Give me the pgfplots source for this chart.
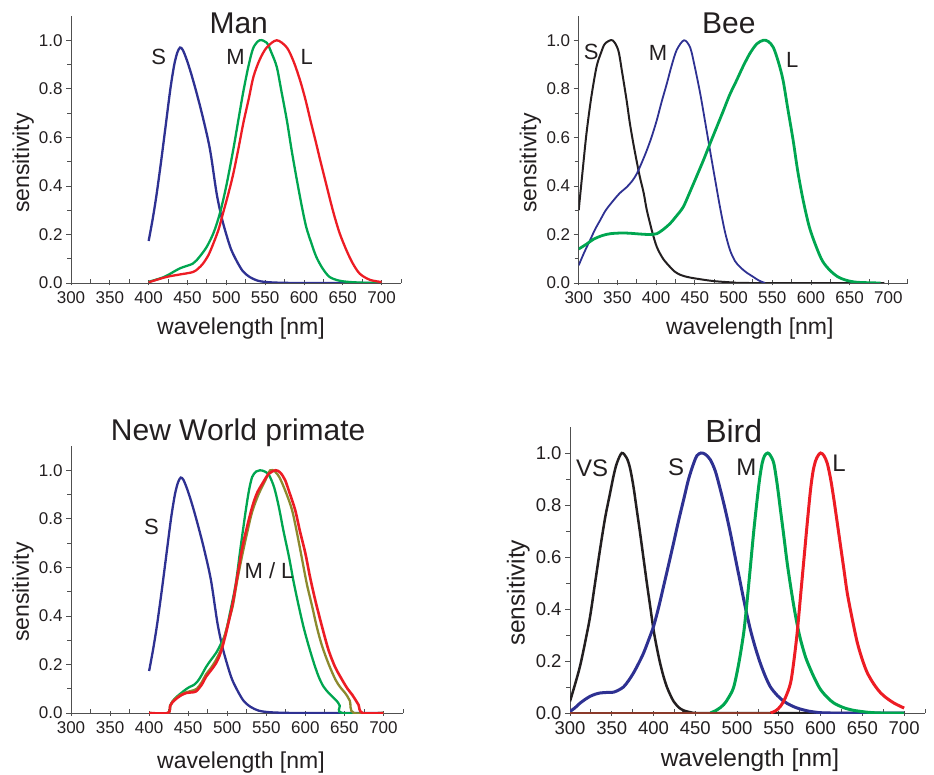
\documentclass[border=0pt]{standalone}
\usepackage{fontspec}
\setmainfont{Liberation Sans}
\usepackage{pgfplots}
\pgfplotsset{compat=1.18}
\definecolor{cblue}{HTML}{2E3192}
\definecolor{cgreen}{HTML}{00A650}
\definecolor{cred}{HTML}{ED1C24}
\definecolor{cblack}{HTML}{231F20}
\definecolor{colive}{HTML}{8C8A2E}
\definecolor{cbrown}{HTML}{8B3A2A}
\definecolor{txt}{HTML}{231F20}
\definecolor{axgray}{HTML}{505050}

\pgfplotsset{
  spec/.style={
    scale only axis, clip mode=individual,
    axis lines*=left,
    axis line style={draw=axgray,line width=0.8pt},
    xmin=300,xmax=725,ymin=0,ymax=1.1,
    xtick={300,350,400,450,500,550,600,650,700},
    xticklabels={300,350,400,450,500,550,600,650,700},
    minor xtick={325,375,425,475,525,575,625,675,725},
    ytick={0,0.2,0.4,0.6,0.8,1.0},
    yticklabels={0.0,0.2,0.4,0.6,0.8,1.0},
    minor ytick={0.1,0.3,0.5,0.7,0.9},
    tick align=outside,major tick length=5pt,minor tick length=4pt,
    every tick/.style={draw=axgray,line width=0.8pt},
    every major x tick/.append style={yshift=2.5pt},
    every minor x tick/.append style={yshift=4pt},
    tick label style={font=\fontsize{17}{20}\selectfont,text=txt},
    label style={font=\fontsize{23}{27}\selectfont,text=txt},
    xlabel={wavelength [nm]},ylabel={sensitivity},
  },
  crv/.style={smooth,line width=2.3pt,no markers},
}
\newcommand{\ttl}{\fontsize{30}{34}\selectfont}
\newcommand{\lbl}{\fontsize{22}{26}\selectfont}

\begin{document}
\begin{tikzpicture}
\path[use as bounding box] (0,0) rectangle (934pt,-775pt);

% Man
\begin{axis}[spec,at={(71pt,-283pt)},anchor=south west,width=330pt,height=267pt,
  xlabel style={at={(axis description cs:0.515,-0.169)},anchor=center},
  ylabel style={at={(axis description cs:-0.145,0.449)},anchor=center}]
\addplot[crv,cblue] coordinates {
(400,0.173)(405,0.26)(410,0.36)(416,0.5)(422,0.65)(428,0.8)(433,0.9)(437,0.95)(440.5,0.97)(444,0.96)(449,0.92)(455,0.86)(462,0.78)(470,0.68)(479,0.55)(487.5,0.37)(494,0.27)(500,0.2)(506,0.14)(513,0.093)(521,0.05)(530,0.025)(540,0.01)(551,0.004)(570,0.001)(600,0)(700,0)};
\addplot[crv,cgreen] coordinates {
(400,0.005)(420,0.025)(440,0.06)(457,0.08)(466,0.11)(475,0.15)(484,0.21)(492,0.29)(500,0.40)(509,0.55)(516,0.68)(522,0.79)(529,0.9)(535,0.97)(543,1.0)(552,0.99)(558,0.95)(565,0.89)(571,0.79)(578,0.67)(584,0.55)(590,0.44)(597,0.32)(603,0.23)(610,0.16)(616,0.107)(624,0.06)(633,0.025)(645,0.01)(659,0.004)(680,0.001)(700,0)};
\addplot[crv,cred] coordinates {
(400,0.003)(423,0.025)(440,0.035)(457,0.045)(464,0.06)(470,0.08)(477,0.115)(483,0.16)(490,0.22)(496,0.29)(502,0.36)(509,0.45)(516,0.56)(522,0.66)(529,0.76)(535,0.85)(543,0.92)(552,0.97)(565,1.0)(578,0.97)(587,0.91)(595,0.835)(602,0.755)(608,0.675)(615,0.585)(621,0.505)(630,0.39)(638,0.29)(646,0.205)(655,0.133)(663,0.08)(672,0.038)(685,0.013)(700,0.004)};
\node[text=txt,font=\ttl] at (axis cs:516,1.07) {Man};
\node[text=txt,font=\lbl] at (axis cs:413,0.93) {S};
\node[text=txt,font=\lbl] at (axis cs:512,0.93) {M};
\node[text=txt,font=\lbl] at (axis cs:603.5,0.93) {L};
\end{axis}

% Bee
\begin{axis}[spec,at={(578.7pt,-283pt)},anchor=south west,width=329pt,height=267pt,
  xlabel style={at={(axis description cs:0.52,-0.169)},anchor=center},
  ylabel style={at={(axis description cs:-0.147,0.449)},anchor=center}]
\addplot[crv,cblack,line width=2pt] coordinates {
(300,0.30)(305,0.46)(310,0.615)(316,0.76)(323,0.89)(329,0.95)(334,0.986)(343.5,1.0)(351,0.96)(356,0.87)(362,0.75)(366,0.66)(370.6,0.574)(375,0.5)(379,0.437)(384,0.37)(388,0.30)(395,0.21)(401,0.148)(409,0.1)(418,0.066)(424,0.047)(431,0.034)(440,0.025)(452,0.018)(474,0.008)(500,0.002)(520,0)(695,0)};
\addplot[crv,cblue,line width=1.8pt] coordinates {
(300,0.073)(307,0.125)(314.6,0.176)(321,0.22)(327.6,0.258)(335,0.3)(344.8,0.34)(353,0.37)(362,0.395)(369,0.42)(375,0.45)(382,0.5)(388,0.547)(394,0.6)(400.8,0.67)(407,0.745)(413.7,0.82)(420,0.895)(426.6,0.96)(436,1.0)(444,0.97)(450,0.89)(457,0.78)(463,0.67)(469.6,0.547)(476,0.43)(482.5,0.313)(489,0.21)(495.5,0.135)(502,0.09)(508.4,0.066)(516,0.045)(525.6,0.025)(533,0.01)(540.7,0)};
\addplot[crv,cgreen,line width=2.8pt] coordinates {
(300,0.14)(310,0.16)(319,0.18)(330,0.195)(340.5,0.203)(355,0.206)(366,0.205)(378,0.202)(388,0.2)(395,0.2)(401,0.203)(409,0.22)(418,0.245)(426,0.275)(435,0.313)(443,0.37)(452,0.437)(461,0.505)(469.6,0.574)(478,0.64)(486.9,0.71)(495,0.775)(504,0.835)(512,0.89)(521,0.945)(530,0.985)(538.5,1.0)(545,0.995)(551.5,0.97)(558,0.91)(564,0.835)(570,0.72)(577,0.588)(583,0.46)(590,0.34)(598,0.23)(607,0.148)(615,0.09)(624.6,0.052)(635,0.025)(646,0.011)(660,0.003)(690,0)};
\node[text=txt,font=\ttl] at (axis cs:494,1.07) {Bee};
\node[text=txt,font=\lbl] at (axis cs:316,0.95) {S};
\node[text=txt,font=\lbl] at (axis cs:402.6,0.946) {M};
\node[text=txt,font=\lbl] at (axis cs:576,0.92) {L};
\end{axis}

% New World primate
\begin{axis}[spec,at={(71pt,-713pt)},anchor=south west,width=332pt,height=267pt,
  xlabel style={at={(axis description cs:0.512,-0.184)},anchor=center},
  ylabel style={at={(axis description cs:-0.145,0.453)},anchor=center}]
\addplot[crv,cblue] coordinates {
(400,0.173)(405,0.26)(410,0.36)(416,0.5)(422,0.65)(428,0.8)(433,0.9)(437,0.95)(440.5,0.97)(444,0.96)(449,0.92)(455,0.86)(462,0.78)(470,0.68)(479,0.55)(487.5,0.37)(494,0.27)(500,0.2)(506,0.14)(513,0.093)(521,0.05)(530,0.025)(540,0.01)(551,0.004)(570,0.001)(600,0)(700,0)};
\addplot[crv,cgreen] coordinates {
(400,0)(424,0)(427,0.03)(430,0.048)(435,0.066)(441,0.082)(446,0.095)(451.6,0.107)(457,0.115)(462,0.13)(467,0.155)(473,0.19)(479,0.218)(485.6,0.247)(492,0.285)(498,0.33)(504,0.42)(511,0.534)(517,0.68)(523.8,0.836)(528,0.92)(532,0.973)(537,0.995)(542,1.0)(548,0.995)(553.5,0.98)(560,0.93)(566,0.85)(572,0.75)(579,0.644)(585,0.54)(591.7,0.438)(598,0.35)(604.5,0.274)(611,0.205)(617,0.15)(623,0.11)(630,0.082)(635,0.066)(640.6,0.048)(644,0.03)(647,0)(700,0)};
\addplot[crv,colive] coordinates {
(400,0)(424,0)(427,0.03)(430,0.048)(436,0.066)(442,0.078)(448,0.086)(455,0.092)(461,0.1)(467,0.125)(473,0.16)(479,0.185)(485,0.215)(491,0.255)(496,0.31)(501,0.37)(507,0.44)(513,0.55)(519.5,0.655)(526,0.75)(532,0.83)(540,0.9)(549,0.96)(555,1.0)(561,0.995)(567,0.97)(575,0.91)(583,0.836)(590,0.73)(596,0.63)(602,0.53)(608.8,0.438)(615,0.35)(621.6,0.274)(630,0.2)(638.6,0.137)(645,0.105)(651,0.082)(657,0.05)(662,0)(700,0)};
\addplot[crv,cred,line width=2.6pt] coordinates {
(400,0)(424,0)(427,0.03)(430,0.045)(436,0.062)(442,0.075)(447,0.082)(454,0.085)(460,0.089)(467,0.115)(473,0.15)(479,0.175)(485.6,0.205)(490,0.235)(494,0.274)(500,0.35)(507,0.452)(513,0.565)(519.5,0.685)(526,0.775)(532,0.849)(538,0.905)(545,0.945)(553,0.985)(562,1.0)(568,0.99)(574,0.96)(580,0.905)(587,0.836)(593,0.75)(600,0.658)(606,0.56)(612.6,0.466)(621,0.36)(629.6,0.26)(638,0.19)(647,0.137)(654,0.1)(660,0.075)(665,0.05)(668,0.034)(673,0)(700,0)};
\node[text=txt,font=\ttl] at (axis cs:514,1.156) {New World primate};
\node[text=txt,font=\lbl] at (axis cs:403,0.765) {S};
\node[text=txt,font=\lbl] at (axis cs:553.5,0.588) {M / L};
\end{axis}

% Bird
\begin{axis}[spec,at={(570pt,-713pt)},anchor=south west,width=355pt,height=286pt,
  tick label style={font=\fontsize{18.5}{22}\selectfont,text=txt},
  label style={font=\fontsize{24.5}{28}\selectfont,text=txt},
  xlabel style={at={(axis description cs:0.507,-0.164)},anchor=center},
  ylabel style={at={(axis description cs:-0.146,0.42)},anchor=center}]
\addplot[crv,cblack,line width=2.5pt] coordinates {
(300,0.045)(306,0.11)(312,0.18)(318,0.27)(324,0.37)(330,0.5)(336,0.63)(342,0.75)(348,0.846)(352,0.91)(356,0.96)(362,1.0)(368,0.98)(372,0.94)(376,0.87)(380,0.78)(384,0.69)(388,0.595)(392,0.5)(396,0.41)(400,0.32)(404,0.25)(408,0.19)(412,0.14)(416,0.10)(420,0.07)(424,0.045)(430,0.022)(436,0.01)(444,0.003)(452,0)(700,0)};
\addplot[crv,cblue,line width=3pt] coordinates {
(300,0.006)(306,0.02)(312,0.038)(318,0.052)(324,0.064)(330,0.072)(336,0.077)(344,0.079)(352,0.08)(358,0.088)(364,0.10)(370,0.124)(376,0.154)(382,0.19)(388,0.23)(394,0.28)(400,0.333)(406,0.405)(412,0.487)(418,0.57)(424,0.654)(430,0.74)(436,0.82)(442,0.9)(448,0.96)(452,0.99)(456.8,1.0)(462,0.995)(468,0.974)(474,0.93)(480,0.859)(486,0.78)(492,0.692)(498,0.595)(504,0.5)(510,0.405)(516,0.32)(522,0.25)(528,0.19)(534,0.14)(540,0.10)(548,0.068)(556,0.045)(564,0.03)(572,0.019)(582,0.01)(592,0.004)(612,0)(700,0)};
\addplot[crv,cgreen,line width=3pt] coordinates {
(468,0)(476,0.012)(484,0.032)(490,0.06)(496,0.10)(502,0.19)(508,0.31)(512,0.43)(516,0.564)(520,0.7)(524,0.82)(527,0.9)(530,0.96)(533,0.99)(536.8,1.0)(540,0.99)(544,0.96)(548,0.88)(552,0.78)(556,0.68)(560,0.577)(564,0.49)(568,0.41)(572,0.34)(576,0.282)(582,0.215)(588,0.167)(594,0.125)(600,0.09)(608,0.06)(616,0.038)(628,0.02)(640,0.01)(656,0.003)(672,0)(700,0)};
\addplot[cbrown,line width=2.5pt,no markers] coordinates {(300,0)(540,0)};
\addplot[crv,cred,line width=3pt] coordinates {
(540,0)(546,0.008)(552,0.026)(558,0.06)(564,0.115)(568,0.2)(572,0.31)(576,0.45)(580,0.59)(584,0.73)(588,0.86)(591,0.93)(594,0.97)(597,0.99)(600,1.0)(604,0.99)(608,0.96)(612,0.9)(616,0.82)(620,0.73)(624,0.64)(628,0.55)(632,0.46)(638,0.36)(644,0.27)(650,0.205)(656,0.154)(664,0.11)(672,0.077)(680,0.055)(688,0.038)(694,0.028)(700,0.019)};
\node[text=txt,font=\fontsize{32}{36}\selectfont] at (axis cs:496,1.085) {Bird};
\node[text=txt,font=\fontsize{24}{28}\selectfont] at (axis cs:326.4,0.942) {VS};
\node[text=txt,font=\fontsize{24}{28}\selectfont] at (axis cs:427,0.946) {S};
\node[text=txt,font=\fontsize{24}{28}\selectfont] at (axis cs:511,0.946) {M};
\node[text=txt,font=\fontsize{24}{28}\selectfont] at (axis cs:622,0.96) {L};
\end{axis}
\end{tikzpicture}
\end{document}
